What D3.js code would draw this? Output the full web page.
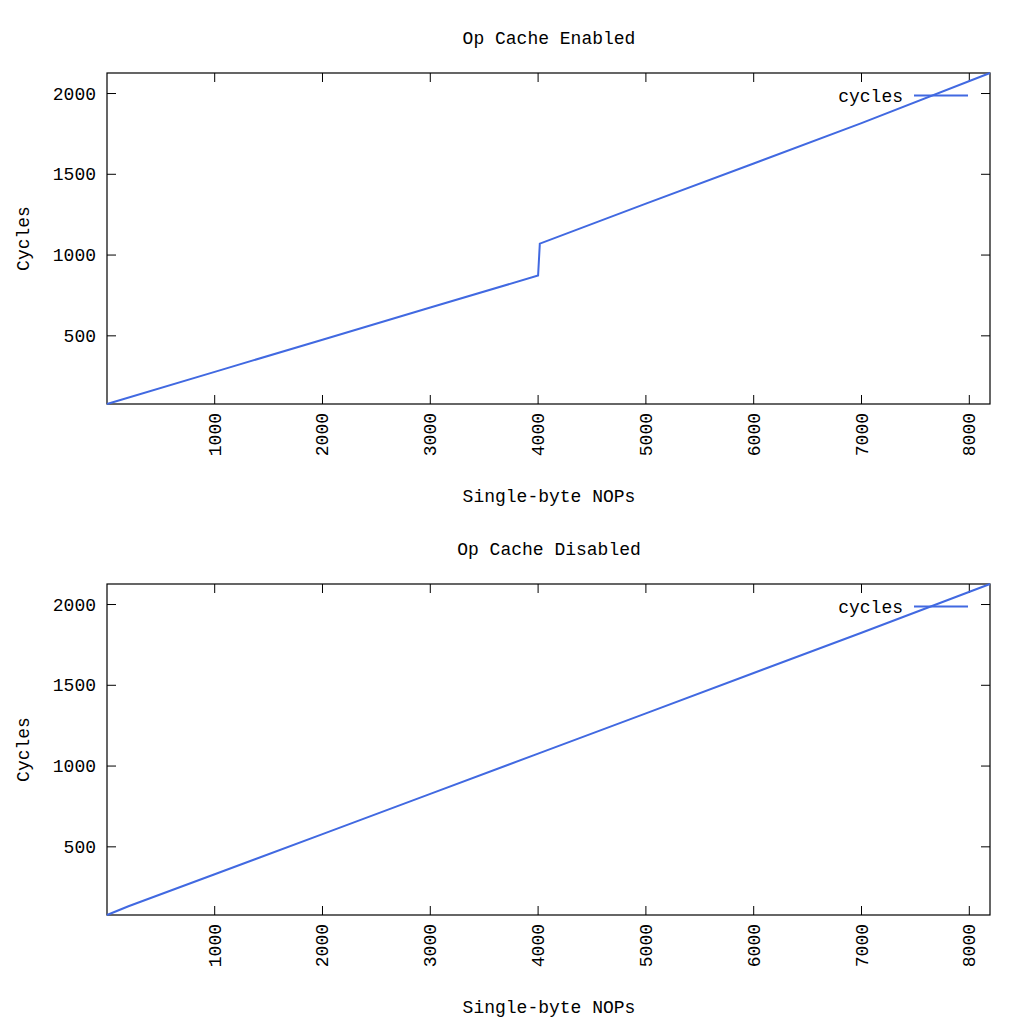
<!DOCTYPE html>
<html>
<head>
<meta charset="utf-8">
<script src="https://cdn.jsdelivr.net/npm/d3@7"></script>
<style>
  body { margin: 0; background: #fff; }
  text { font-family: "Liberation Mono", "DejaVu Sans Mono", monospace; fill: #000; }
</style>
</head>
<body>
<svg id="chart" width="1024" height="1024"></svg>
<script>
// values (NOP count -> cycles)
let enabledNops = [1, 1000, 2000, 3000, 4000, 4016, 5000, 6000, 7000, 8192];
let enabledCycles = [78, 277, 476, 675, 873, 1071, 1318, 1567, 1817, 2127];
let disabledNops = [1, 200, 1000, 2000, 3000, 4000, 5000, 6000, 7000, 8192];
let disabledCycles = [78, 132, 330, 579, 828, 1077, 1326, 1576, 1825, 2127];
let xTicks = [1000, 2000, 3000, 4000, 5000, 6000, 7000, 8000];
let yTicks = [500, 1000, 1500, 2000];

let panels = [
    { title: "Op Cache Enabled", nops: enabledNops, cycles: enabledCycles, top: 73 },
    { title: "Op Cache Disabled", nops: disabledNops, cycles: disabledCycles, top: 584 }
];

let left = 107, right = 990, plotH = 331;
let svg = d3.select("#chart");

panels.forEach(function (p) {
    let x = d3.scaleLinear().domain([1, 8192]).range([left, right]);
    let y = d3.scaleLinear().domain([78, 2127]).range([p.top + plotH, p.top]);
    let g = svg.append("g");
    let bottom = p.top + plotH;

    // ticks, inward on all four sides
    let tl = 9;
    xTicks.forEach(function (t) {
        g.append("line").attr("x1", x(t)).attr("x2", x(t)).attr("y1", bottom).attr("y2", bottom - tl)
            .attr("stroke", "#000");
        g.append("line").attr("x1", x(t)).attr("x2", x(t)).attr("y1", p.top).attr("y2", p.top + tl)
            .attr("stroke", "#000");
        g.append("text")
            .attr("transform", "translate(" + (x(t) + 6) + "," + (bottom + 9) + ") rotate(-90)")
            .attr("text-anchor", "end")
            .attr("font-size", 18)
            .text(t);
    });
    yTicks.forEach(function (t) {
        g.append("line").attr("x1", left).attr("x2", left + tl).attr("y1", y(t)).attr("y2", y(t))
            .attr("stroke", "#000");
        g.append("line").attr("x1", right).attr("x2", right - tl).attr("y1", y(t)).attr("y2", y(t))
            .attr("stroke", "#000");
        g.append("text")
            .attr("x", left - 11)
            .attr("y", y(t) + 6)
            .attr("text-anchor", "end")
            .attr("font-size", 18)
            .text(t);
    });

    g.append("rect")
        .attr("x", left).attr("y", p.top)
        .attr("width", right - left).attr("height", plotH)
        .attr("fill", "none").attr("stroke", "#000").attr("stroke-width", 1.2);

    let pts = p.nops.map((n, i) => [n, p.cycles[i]]);
    let line = d3.line().x(d => x(d[0])).y(d => y(d[1]));
    g.append("path")
        .attr("d", line(pts))
        .attr("fill", "none")
        .attr("stroke", "#4169e1")
        .attr("stroke-width", 2);

    // legend
    let ly = y(2000) + 2;
    g.append("text")
        .attr("x", 903).attr("y", ly + 6)
        .attr("text-anchor", "end")
        .attr("font-size", 18)
        .text("cycles");
    g.append("line")
        .attr("x1", 914).attr("x2", 968).attr("y1", ly).attr("y2", ly)
        .attr("stroke", "#4169e1").attr("stroke-width", 2);

    g.append("text")
        .attr("x", 549).attr("y", p.top - 29)
        .attr("text-anchor", "middle")
        .attr("font-size", 18)
        .text(p.title);
    g.append("text")
        .attr("x", 549).attr("y", bottom + 98)
        .attr("text-anchor", "middle")
        .attr("font-size", 18)
        .text("Single-byte NOPs");
    g.append("text")
        .attr("transform", "translate(29," + (p.top + plotH / 2) + ") rotate(-90)")
        .attr("text-anchor", "middle")
        .attr("font-size", 18)
        .text("Cycles");
});
</script>
</body>
</html>
